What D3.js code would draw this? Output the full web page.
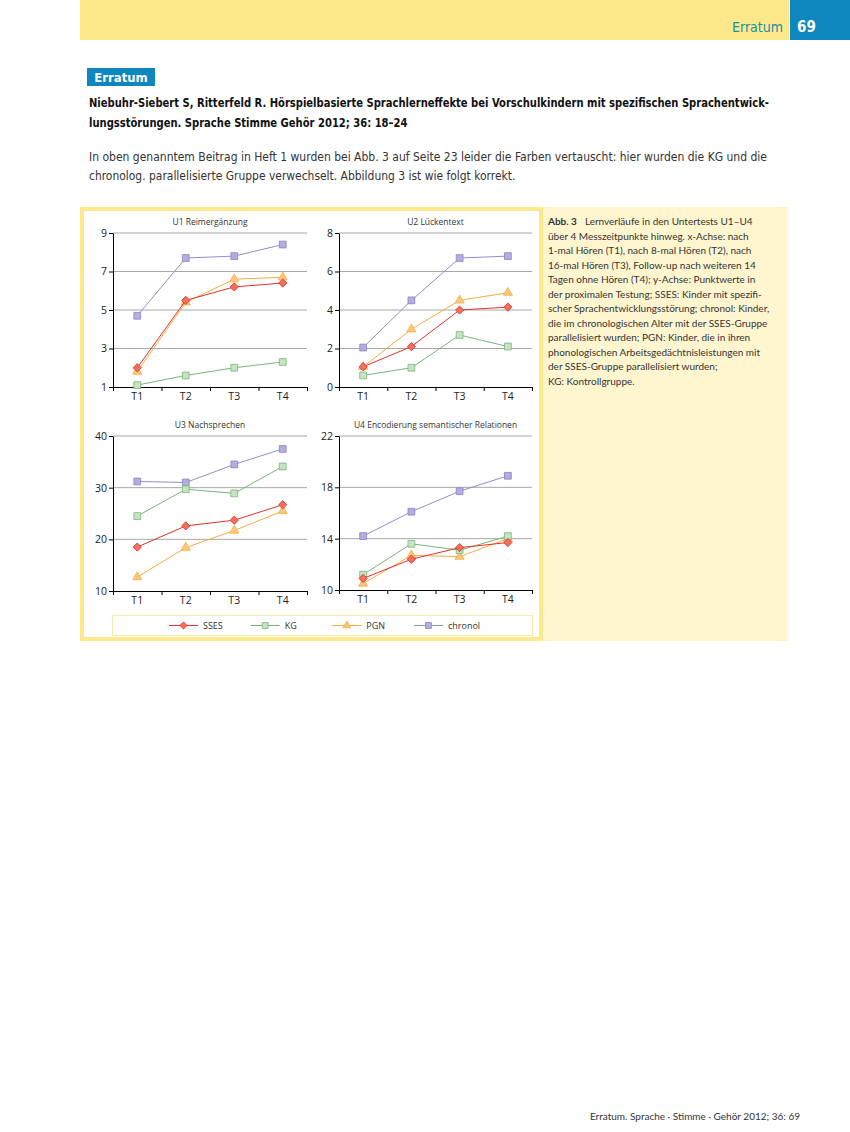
<!DOCTYPE html>
<html>
<head>
<meta charset="utf-8">
<script src="https://cdn.jsdelivr.net/npm/d3@7"></script>
<style>
body { margin: 0; background: #fff; }
svg { display: block; }
</style>
</head>
<body>
<div id="page"></div>
<script>
// data
var periods = ["T1", "T2", "T3", "T4"];
var groups = ["SSES", "KG", "PGN", "chronol"];
var panelTitles = ["U1 Reimergänzung", "U2 Lückentext", "U3 Nachsprechen", "U4 Encodierung semantischer Relationen"];
var u1Ticks = [1, 3, 5, 7, 9];
var u2Ticks = [0, 2, 4, 6, 8];
var u3Ticks = [10, 20, 30, 40];
var u4Ticks = [10, 14, 18, 22];

var u1SSES = [2.0, 5.5, 6.2, 6.4];
var u1KG = [1.1, 1.6, 2.0, 2.3];
var u1PGN = [1.8, 5.4, 6.6, 6.7];
var u1Chronol = [4.7, 7.7, 7.8, 8.4];

var u2SSES = [1.05, 2.1, 4.0, 4.15];
var u2KG = [0.6, 1.0, 2.7, 2.1];
var u2PGN = [1.05, 3.0, 4.5, 4.9];
var u2Chronol = [2.05, 4.5, 6.7, 6.8];

var u3SSES = [18.5, 22.6, 23.7, 26.7];
var u3KG = [24.5, 29.7, 28.9, 34.1];
var u3PGN = [12.7, 18.4, 21.7, 25.5];
var u3Chronol = [31.2, 31.0, 34.5, 37.5];

var u4SSES = [10.9, 12.4, 13.3, 13.7];
var u4KG = [11.2, 13.6, 13.1, 14.2];
var u4PGN = [10.5, 12.7, 12.6, 14.0];
var u4Chronol = [14.2, 16.1, 17.7, 18.9];

var captionLines = [
	"über 4 Messzeitpunkte hinweg. x-Achse: nach",
	"1-mal Hören (T1), nach 8-mal Hören (T2), nach",
	"16-mal Hören (T3), Follow-up nach weiteren 14",
	"Tagen ohne Hören (T4); y-Achse: Punktwerte in",
	"der proximalen Testung; SSES: Kinder mit spezifi-",
	"scher Sprachentwicklungsstörung; chronol: Kinder,",
	"die im chronologischen Alter mit der SSES-Gruppe",
	"parallelisiert wurden; PGN: Kinder, die in ihren",
	"phonologischen Arbeitsgedächtnisleistungen mit",
	"der SSES-Gruppe parallelisiert wurden;",
	"KG: Kontrollgruppe."
];

var width = 850, height = 1132;
var condensed = "'Liberation Sans Narrow', 'DejaVu Sans Condensed', sans-serif";
var chartFont = "'Open Sans', 'Noto Sans', sans-serif";

var svg = d3.select("#page").append("svg")
	.attr("width", width)
	.attr("height", height);

// header band
svg.append("rect").attr("x", 80).attr("y", 0).attr("width", 709).attr("height", 40).style("fill", "#fee98a");
svg.append("rect").attr("x", 790).attr("y", 0).attr("width", 60).attr("height", 40).style("fill", "#0d87bd");
svg.append("text").attr("x", 783).attr("y", 32).attr("text-anchor", "end")
	.style("font-family", condensed).style("font-size", "14px").style("fill", "#1a8dab")
	.text("Erratum");
svg.append("text").attr("x", 797).attr("y", 32)
	.style("font-family", condensed).style("font-size", "15px").style("font-weight", "bold").style("fill", "#fff")
	.text("69");

// tag + title + body
svg.append("rect").attr("x", 87).attr("y", 68).attr("width", 68).attr("height", 18).style("fill", "#0d87bd");
svg.append("text").attr("x", 121).attr("y", 82).attr("text-anchor", "middle")
	.style("font-family", condensed).style("font-size", "13px").style("font-weight", "bold").style("fill", "#fff")
	.text("Erratum");

// squeeze a line horizontally to the width it has on the page
function fitLine(text, y, w, weight, color) {
	var t = svg.append("text").attr("x", 0).attr("y", 0)
		.style("font-family", condensed).style("font-size", "13px")
		.style("font-weight", weight).style("fill", color)
		.text(text);
	var natural = t.node().getComputedTextLength();
	t.attr("transform", "translate(89," + y + ") scale(" + (w / natural) + ",1)");
}
fitLine("Niebuhr-Siebert S, Ritterfeld R. Hörspielbasierte Sprachlerneffekte bei Vorschulkindern mit spezifischen Sprachentwick-", 107, 681, "bold", "#111");
fitLine("lungsstörungen. Sprache Stimme Gehör 2012; 36: 18–24", 127, 319, "bold", "#111");
fitLine("In oben genanntem Beitrag in Heft 1 wurden bei Abb. 3 auf Seite 23 leider die Farben vertauscht: hier wurden die KG und die", 161, 679, "normal", "#333");
fitLine("chronolog. parallelisierte Gruppe verwechselt. Abbildung 3 ist wie folgt korrekt.", 180, 427, "normal", "#333");

// figure box
svg.append("rect").attr("x", 80).attr("y", 207).attr("width", 708).attr("height", 434).style("fill", "#fff6cf");
svg.append("rect").attr("x", 82).attr("y", 209).attr("width", 459).attr("height", 430)
	.style("fill", "#fff").style("stroke", "#fde98c").style("stroke-width", 4);

// caption
var cap = svg.append("text").attr("x", 548).attr("y", 225)
	.style("font-family", "Lato, 'Open Sans', sans-serif").style("font-size", "10px").style("fill", "#333");
cap.append("tspan").style("font-weight", "bold").text("Abb. 3");
cap.append("tspan").attr("dx", 8).text("Lernverläufe in den Untertests U1–U4");
captionLines.forEach(function(t, i) {
	svg.append("text").attr("x", 548).attr("y", 225 + 14.5 * (i + 1))
		.style("font-family", "Lato, 'Open Sans', sans-serif").style("font-size", "10px").style("fill", "#333")
		.text(t);
});

// series styles (diamond = square turned by 45 degrees)
var styles = {
	SSES: { line: "#e2322c", fill: "#f4705f", stroke: "#d8322a", shape: d3.symbolSquare, size: 34, rot: 45 },
	KG: { line: "#78b478", fill: "#c6e4c2", stroke: "#79b479", shape: d3.symbolSquare, size: 46, rot: 0 },
	PGN: { line: "#f5ad42", fill: "#fcc67c", stroke: "#f3ad45", shape: d3.symbolTriangle, size: 36, rot: 0 },
	chronol: { line: "#958dc6", fill: "#b4aede", stroke: "#8a81c0", shape: d3.symbolSquare, size: 46, rot: 0 }
};

var panels = [
	{ title: panelTitles[0], ticks: u1Ticks, series: [u1SSES, u1KG, u1PGN, u1Chronol], x0: 113, x1: 307, y0: 233, y1: 387 },
	{ title: panelTitles[1], ticks: u2Ticks, series: [u2SSES, u2KG, u2PGN, u2Chronol], x0: 339, x1: 532, y0: 233, y1: 387 },
	{ title: panelTitles[2], ticks: u3Ticks, series: [u3SSES, u3KG, u3PGN, u3Chronol], x0: 113, x1: 307, y0: 436, y1: 591 },
	{ title: panelTitles[3], ticks: u4Ticks, series: [u4SSES, u4KG, u4PGN, u4Chronol], x0: 339, x1: 532, y0: 436, y1: 590 }
];

panels.forEach(function(p) {
	var g = svg.append("g");
	var x = d3.scaleBand().domain(periods).range([p.x0, p.x1]).padding(0);
	var xEdge = d3.scaleLinear().domain([0, periods.length]).range([p.x0, p.x1]);
	var y = d3.scaleLinear().domain(d3.extent(p.ticks)).range([p.y1, p.y0]);

	g.append("text").attr("x", (p.x0 + p.x1) / 2).attr("y", p.y0 - 8)
		.attr("text-anchor", "middle")
		.style("font-family", chartFont).style("font-size", "8.5px").style("fill", "#333")
		.text(p.title);

	// gridlines
	g.selectAll(".grid").data(p.ticks.slice(1)).enter().append("line")
		.attr("x1", p.x0).attr("x2", p.x1)
		.attr("y1", d => y(d)).attr("y2", d => y(d))
		.style("stroke", "#a8a8a8").style("stroke-width", 1);

	var yAxis = g.append("g").attr("transform", "translate(" + p.x0 + ",0)")
		.call(d3.axisLeft(y).tickValues(p.ticks).tickSize(4).tickPadding(2).tickSizeOuter(0));
	var xAxis = g.append("g").attr("transform", "translate(0," + p.y1 + ")")
		.call(d3.axisBottom(x).tickSize(0).tickPadding(6).tickSizeOuter(0));
	g.append("g").attr("transform", "translate(0," + p.y1 + ")")
		.call(d3.axisBottom(xEdge).tickValues(d3.range(periods.length + 1)).tickSize(4).tickFormat(""))
		.select(".domain").remove();
	[yAxis, xAxis].forEach(function(a) {
		a.selectAll("text").style("font-family", chartFont).style("font-size", "10.5px").style("fill", "#222");
	});
	g.selectAll(".domain, .tick line").style("stroke", "#000");

	// draw chronol first so SSES ends on top
	for (var k = groups.length - 1; k >= 0; k--) {
		var st = styles[groups[k]];
		var vals = p.series[k];
		var line = d3.line().x((d, i) => x(periods[i]) + x.bandwidth() / 2).y(d => y(d));
		g.append("path").attr("d", line(vals))
			.style("fill", "none").style("stroke", st.line).style("stroke-width", 1);
		g.selectAll(null).data(vals).enter().append("path")
			.attr("transform", (d, i) => "translate(" + (x(periods[i]) + x.bandwidth() / 2) + "," + y(d) + ") rotate(" + st.rot + ")")
			.attr("d", d3.symbol().type(st.shape).size(st.size))
			.style("fill", st.fill).style("stroke", st.stroke).style("stroke-width", 0.8);
	}
});

// legend
var lg = svg.append("g");
lg.append("rect").attr("x", 112.5).attr("y", 615.5).attr("width", 420).attr("height", 20)
	.style("fill", "#fff").style("stroke", "#f6eaa8");
var legendX = d3.scalePoint().domain(groups).range([169, 414]);
groups.forEach(function(name) {
	var st = styles[name];
	var lx = legendX(name);
	lg.append("line").attr("x1", lx).attr("x2", lx + 29).attr("y1", 625.5).attr("y2", 625.5)
		.style("stroke", st.line).style("stroke-width", 1);
	lg.append("path").attr("transform", "translate(" + (lx + 14.5) + ",625.5) rotate(" + st.rot + ")")
		.attr("d", d3.symbol().type(st.shape).size(st.size * 0.75))
		.style("fill", st.fill).style("stroke", st.stroke).style("stroke-width", 0.8);
	lg.append("text").attr("x", lx + 34).attr("y", 629)
		.style("font-family", chartFont).style("font-size", "9px").style("fill", "#333")
		.text(name);
});

// footer
svg.append("text").attr("x", 800).attr("y", 1120).attr("text-anchor", "end")
	.style("font-family", "Lato, 'Open Sans', sans-serif").style("font-size", "10px").style("fill", "#333")
	.text("Erratum.  Sprache · Stimme · Gehör 2012; 36: 69");
</script>
</body>
</html>
